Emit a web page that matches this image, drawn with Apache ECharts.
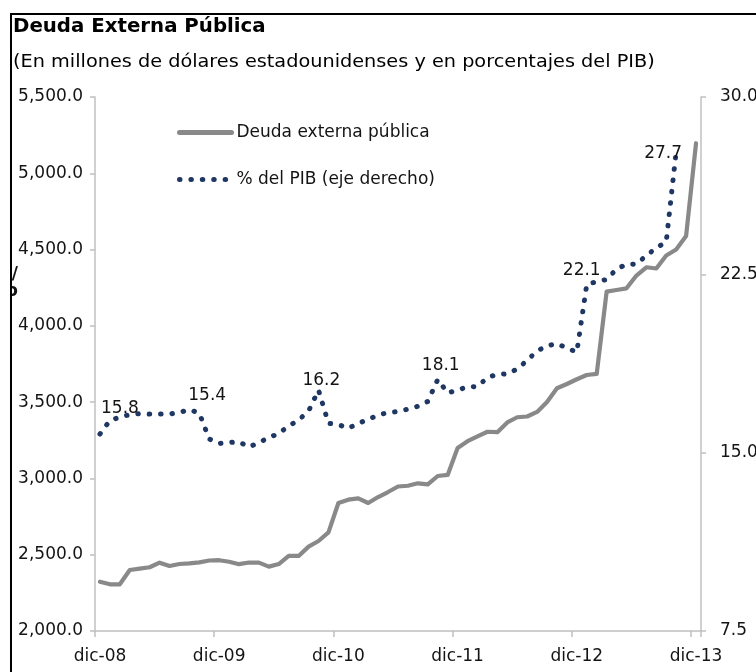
<!DOCTYPE html>
<html>
<head>
<meta charset="utf-8">
<script src="https://cdn.jsdelivr.net/npm/echarts@6/dist/echarts.min.js"></script>
<style>
  html, body { margin: 0; padding: 0; background: #ffffff; }
  #chart { width: 756px; height: 672px; }
</style>
</head>
<body>
<div id="chart"></div>
<script>
// Monthly categories, December 2008 to December 2013
const categories = [
  'dic-08',
  'ene-09', 'feb-09', 'mar-09', 'abr-09', 'may-09', 'jun-09', 'jul-09', 'ago-09', 'sep-09', 'oct-09', 'nov-09', 'dic-09',
  'ene-10', 'feb-10', 'mar-10', 'abr-10', 'may-10', 'jun-10', 'jul-10', 'ago-10', 'sep-10', 'oct-10', 'nov-10', 'dic-10',
  'ene-11', 'feb-11', 'mar-11', 'abr-11', 'may-11', 'jun-11', 'jul-11', 'ago-11', 'sep-11', 'oct-11', 'nov-11', 'dic-11',
  'ene-12', 'feb-12', 'mar-12', 'abr-12', 'may-12', 'jun-12', 'jul-12', 'ago-12', 'sep-12', 'oct-12', 'nov-12', 'dic-12',
  'ene-13', 'feb-13', 'mar-13', 'abr-13', 'may-13', 'jun-13', 'jul-13', 'ago-13', 'sep-13', 'oct-13', 'nov-13', 'dic-13'
];

// Deuda externa pública, millones de US$
const deudaExterna = [
  2323,
  2306, 2306, 2400, 2409, 2418, 2448, 2426, 2439, 2443, 2450, 2462, 2464,
  2454, 2438, 2449, 2448, 2422, 2439, 2492, 2492, 2553, 2590, 2646, 2839,
  2861, 2869, 2839, 2878, 2911, 2947, 2952, 2968, 2961, 3016, 3023, 3200,
  3244, 3276, 3306, 3303, 3367, 3401, 3406, 3436, 3501, 3591, 3619, 3650,
  3678, 3685, 4224, 4235, 4246, 4330, 4384, 4376, 4461, 4501, 4589, 5197
];

// Deuda como % del PIB (eje derecho)
const pctPIB = [
  15.8,
  16.37, 16.51, 16.62, 16.66, 16.64, 16.64, 16.64, 16.71, 16.83, 16.68, 15.59, 15.4,
  15.44, 15.47, 15.25, 15.44, 15.65, 15.82, 16.14, 16.39, 16.77, 17.65, 16.25, 16.2,
  16.04, 16.25, 16.41, 16.6, 16.7, 16.75, 16.85, 16.97, 17.17, 18.1, 17.53, 17.65,
  17.79, 17.8, 18.18, 18.32, 18.33, 18.54, 18.9, 19.3, 19.51, 19.61, 19.42, 19.25,
  22.1, 22.22, 22.31, 22.75, 22.95, 22.96, 23.32, 23.64, 23.9, 27.7, null, null
];

// Left and right axis scales
const leftAxisRange = { min: 2000, max: 5500, step: 500 };
const rightAxisRange = { min: 7.5, max: 30, step: 7.5 };

const seriesNames = ['Deuda externa pública', '% del PIB (eje derecho)'];
const titleText = 'Deuda Externa Pública';
const subtitleText = '(En millones de dólares estadounidenses y en porcentajes del PIB)';

// Which % points carry a value label, and where each label sits relative to its point
const pibLabelOffsets = {
  0: [20, -25],
  12: [-12, -48],
  24: [-17, -44],
  34: [3, -14],
  49: [-5, -14],
  58: [-13, 2]
};

const FONT = 'DejaVu Sans';
const TEXT_COLOR = '#141414';
const AXIS_COLOR = '#c0c0c0';
const GRAY_LINE = '#898989';
const NAVY = '#1f3763';

const everyYear = function (index) { return index % 12 === 0; };

const pibData = pctPIB.map(function (v, i) {
  const off = pibLabelOffsets[i];
  if (!off || v == null) return v;
  return {
    value: v,
    label: {
      show: true,
      position: 'inside',
      offset: off,
      color: TEXT_COLOR,
      fontSize: 17,
      fontFamily: FONT,
      formatter: function (p) { return Number(p.value).toFixed(1); }
    }
  };
});

const chart = echarts.init(document.getElementById('chart'), null, { renderer: 'canvas' });

chart.setOption({
  animation: false,
  backgroundColor: '#ffffff',
  grid: {
    left: 95,
    right: 55,
    top: 97,
    bottom: 41,
    containLabel: false,
    outerBoundsMode: 'none'
  },
  legend: {
    orient: 'vertical',
    left: 177,
    top: 124,
    padding: 0,
    itemWidth: 52,
    itemHeight: 16,
    itemGap: 30,
    data: seriesNames,
    textStyle: { color: TEXT_COLOR, fontSize: 17, fontFamily: FONT },
    itemStyle: { color: 'transparent', borderWidth: 0 },
    lineStyle: { width: 5 },
    selectedMode: false
  },
  xAxis: {
    type: 'category',
    data: categories,
    boundaryGap: true,
    axisLine: { show: true, lineStyle: { color: AXIS_COLOR, width: 1.5 } },
    axisTick: { show: true, interval: everyYear, length: 6, lineStyle: { color: AXIS_COLOR, width: 1.5 } },
    axisLabel: {
      interval: everyYear,
      margin: 17,
      color: TEXT_COLOR,
      fontSize: 17,
      fontFamily: FONT
    },
    splitLine: { show: false }
  },
  yAxis: [
    {
      type: 'value',
      position: 'left',
      min: leftAxisRange.min,
      max: leftAxisRange.max,
      interval: leftAxisRange.step,
      axisLine: { show: true, lineStyle: { color: AXIS_COLOR, width: 1.5 } },
      axisTick: { show: true, length: 5, lineStyle: { color: AXIS_COLOR, width: 1.5 } },
      axisLabel: {
        margin: 12,
        color: TEXT_COLOR,
        fontSize: 17,
        fontFamily: FONT,
        formatter: function (v) {
          return v.toLocaleString('en-US', { minimumFractionDigits: 1, maximumFractionDigits: 1 });
        }
      },
      splitLine: { show: false }
    },
    {
      type: 'value',
      position: 'right',
      min: rightAxisRange.min,
      max: rightAxisRange.max,
      interval: rightAxisRange.step,
      axisLine: { show: true, lineStyle: { color: AXIS_COLOR, width: 1.5 } },
      axisTick: { show: true, length: 5, lineStyle: { color: AXIS_COLOR, width: 1.5 } },
      axisLabel: {
        margin: 19,
        color: TEXT_COLOR,
        fontSize: 17,
        fontFamily: FONT,
        formatter: function (v) { return v.toFixed(1); }
      },
      splitLine: { show: false }
    }
  ],
  series: [
    {
      name: seriesNames[0],
      type: 'line',
      yAxisIndex: 0,
      data: deudaExterna,
      symbol: 'none',
      itemStyle: { color: GRAY_LINE },
      lineStyle: { color: GRAY_LINE, width: 4.2, join: 'round', cap: 'round' },
      emphasis: { disabled: true },
      z: 2
    },
    {
      name: seriesNames[1],
      type: 'line',
      yAxisIndex: 1,
      data: pibData,
      symbol: 'circle',
      symbolSize: 1,
      showSymbol: true,
      showAllSymbol: true,
      connectNulls: false,
      itemStyle: { color: 'rgba(0,0,0,0)' },
      lineStyle: { color: NAVY, width: 5, type: [0.5, 10.9], cap: 'round', join: 'round' },
      emphasis: { disabled: true },
      z: 3
    }
  ],
  graphic: [
    {
      type: 'text',
      z: 100,
      x: 13,
      y: 18,
      scaleX: 1.04,
      style: { x: 0, y: 0, text: titleText, font: 'bold 19px "' + FONT + '"', fill: '#000000', verticalAlign: 'top' }
    },
    {
      type: 'text',
      z: 100,
      x: 13,
      y: 54,
      scaleX: 1.134,
      style: { x: 0, y: 0, text: subtitleText, font: '17px "' + FONT + '"', fill: '#000000', verticalAlign: 'top' }
    },
    {
      type: 'text',
      z: 100,
      style: { x: 18, y: 266, text: '/\no', font: 'bold 17px "' + FONT + '"', fill: TEXT_COLOR, align: 'right', verticalAlign: 'top', lineHeight: 17 }
    },
    {
      type: 'rect',
      z: 101,
      shape: { x: 0, y: 0, width: 11, height: 672 },
      style: { fill: '#ffffff' }
    },
    {
      type: 'line',
      z: 102,
      shape: { x1: 11, y1: 14, x2: 11, y2: 672 },
      style: { stroke: '#000000', lineWidth: 2 }
    },
    {
      type: 'line',
      z: 102,
      shape: { x1: 10, y1: 14, x2: 756, y2: 14 },
      style: { stroke: '#000000', lineWidth: 2 }
    }
  ]
});
</script>
</body>
</html>
